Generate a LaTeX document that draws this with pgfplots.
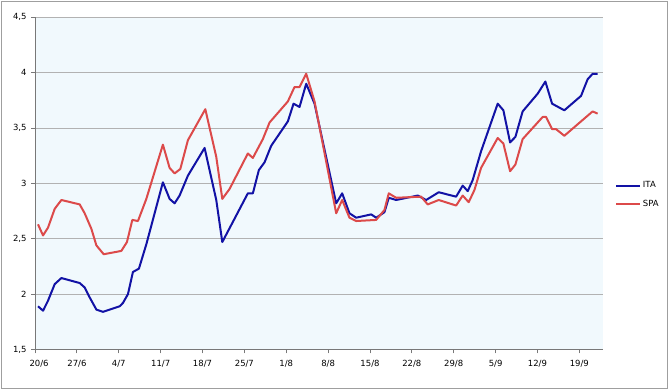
\documentclass[border=0pt]{standalone}
\usepackage{pgfplots}
\pgfplotsset{compat=1.18}
\usepackage{fontspec}
\setmainfont{DejaVu Sans}
\definecolor{itablue}{RGB}{18,18,165}
\definecolor{spared}{RGB}{220,74,74}
\definecolor{plotbg}{RGB}{241,249,253}
\definecolor{gridgray}{RGB}{178,178,178}
\definecolor{axgray}{RGB}{120,120,120}
\begin{document}
\begin{tikzpicture}
\begin{axis}[
  scale only axis, width=568bp, height=332bp,
  xmin=0, xmax=95, ymin=1.5, ymax=4.5,
  axis background/.style={fill=plotbg},
  axis x line*=bottom, axis y line*=left,
  axis line style={axgray, line width=0.8bp},
  xtick={0,7,14,21,28,35,42,49,56,63,70,77,84,91},
  xticklabels={\hspace*{8bp}20/6,27/6,4/7,11/7,18/7,25/7,1/8,8/8,15/8,22/8,29/8,5/9,12/9,19/9},
  ytick={1.5,2,2.5,3,3.5,4,4.5},
  ymajorgrids, major grid style={gridgray, line width=0.8bp},
  tick align=outside, major tick length=4bp,
  tick style={axgray, line width=0.8bp},
  /pgf/number format/assume math mode=true,
  /pgf/number format/use comma,
  ticklabel style={font=\fontsize{8.5}{10}\selectfont},
  xticklabel style={yshift=-3bp},
  yticklabel style={xshift=-1bp},
  legend style={draw=none, fill=none, at={(1,0.465)}, anchor=west, xshift=12bp,
    font=\fontsize{8.5}{10}\selectfont, row sep=8bp, inner sep=0pt,
    nodes={inner sep=1.5bp}},
  legend cell align=left,
  legend image code/.code={\draw[#1] (0bp,0bp) -- (24bp,0bp);},
]
\addplot[itablue, line width=2bp, line join=round] coordinates {
(0.50,1.89) (1.34,1.85) (2.17,1.94) (3.29,2.09) (4.41,2.145) (7.47,2.10) (8.30,2.06) (9.14,1.97) (10.26,1.86) (11.36,1.84) (14.15,1.89) (14.70,1.92) (15.54,2.00) (16.37,2.20) (17.37,2.23) (18.61,2.45) (21.38,3.01) (22.50,2.86) (23.34,2.82) (24.17,2.89) (25.56,3.07) (28.35,3.32) (30.30,2.85) (31.31,2.47) (35.58,2.91) (36.42,2.91) (37.42,3.12) (38.37,3.19) (39.49,3.34) (42.27,3.56) (43.22,3.72) (44.22,3.69) (45.34,3.90) (46.73,3.72) (50.35,2.82) (51.35,2.91) (52.57,2.73) (53.69,2.69) (56.20,2.72) (57.03,2.69) (58.42,2.74) (59.14,2.87) (60.37,2.85) (63.98,2.89) (65.39,2.85) (67.49,2.92) (70.40,2.88) (71.50,2.98) (72.34,2.93) (73.17,3.03) (74.57,3.29) (77.35,3.72) (78.30,3.66) (79.42,3.37) (80.31,3.42) (81.52,3.65) (84.03,3.81) (85.32,3.92) (86.44,3.72) (88.49,3.66) (91.28,3.79) (92.38,3.94) (93.22,3.99) (94.05,3.99)
};
\addlegendentry{ITA}
\addplot[spared, line width=2bp, line join=round] coordinates {
(0.50,2.63) (1.34,2.53) (2.17,2.60) (3.29,2.77) (4.41,2.85) (7.47,2.81) (8.30,2.73) (9.42,2.59) (10.26,2.44) (11.48,2.36) (14.43,2.39) (15.37,2.47) (16.27,2.67) (17.21,2.66) (18.61,2.86) (21.38,3.35) (22.50,3.14) (23.34,3.09) (24.29,3.13) (25.56,3.39) (28.47,3.67) (30.30,3.24) (31.31,2.86) (32.53,2.95) (35.58,3.27) (36.42,3.23) (38.09,3.40) (39.21,3.55) (42.27,3.74) (43.38,3.87) (44.22,3.87) (45.34,3.99) (46.73,3.74) (50.35,2.73) (51.35,2.85) (52.57,2.69) (53.69,2.66) (57.03,2.67) (58.42,2.76) (59.14,2.91) (60.37,2.87) (64.55,2.88) (65.65,2.81) (67.49,2.85) (70.40,2.80) (71.50,2.89) (72.50,2.83) (73.46,2.94) (74.57,3.14) (77.35,3.41) (78.30,3.36) (79.42,3.11) (80.31,3.17) (81.52,3.40) (84.87,3.60) (85.43,3.60) (86.44,3.49) (87.10,3.49) (88.49,3.43) (91.28,3.56) (93.22,3.65) (94.05,3.63)
};
\addlegendentry{SPA}
\coordinate (SW) at (rel axis cs:0,0);
\coordinate (NE) at (rel axis cs:1,1);
\end{axis}
\draw[gray!75, line width=1bp] ([xshift=-33.3bp,yshift=-39bp]SW) rectangle ([xshift=64.4bp,yshift=15.8bp]NE);
\path ([xshift=-35bp,yshift=-41.7bp]SW) rectangle ([xshift=66.7bp,yshift=17.3bp]NE);
\end{tikzpicture}
\end{document}
